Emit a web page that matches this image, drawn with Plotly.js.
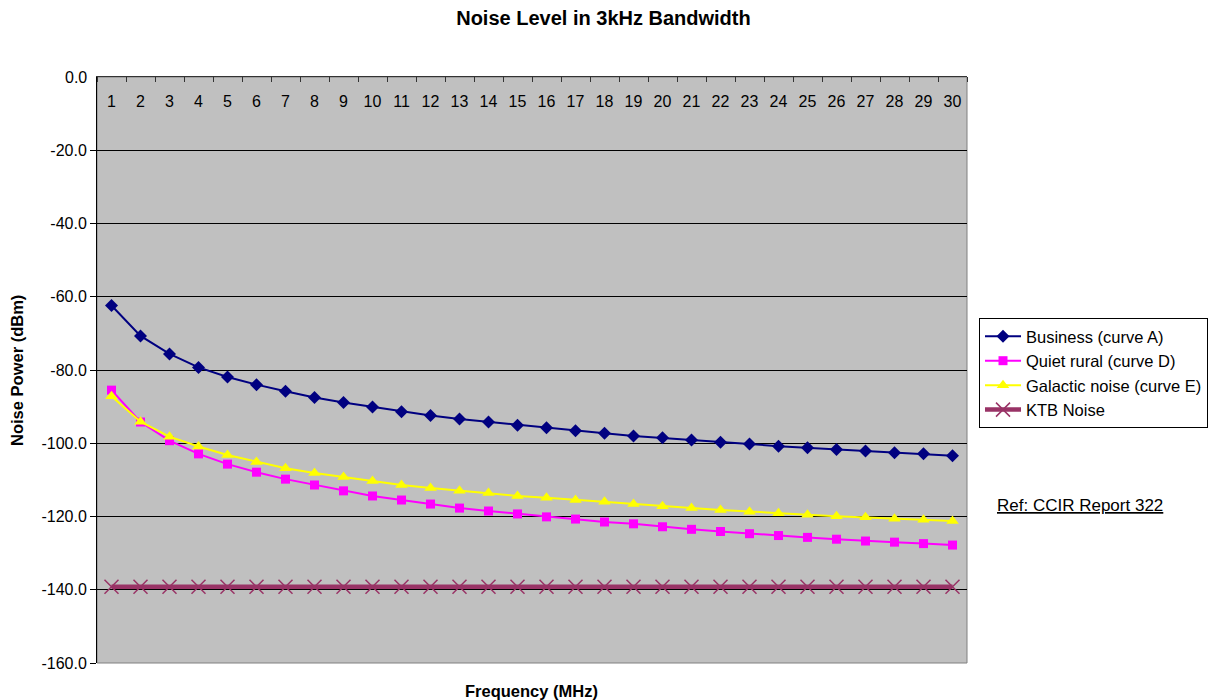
<!DOCTYPE html>
<html><head><meta charset="utf-8">
<script src="https://cdn.plot.ly/plotly-3.0.1.min.js"></script>
<style>html,body{margin:0;padding:0;background:#fff}#chart{width:1213px;height:700px}</style>
</head><body><div id="chart"></div>
<script>
const freqMHz = [1,2,3,4,5,6,7,8,9,10,11,12,13,14,15,16,17,18,19,20,21,22,23,24,25,26,27,28,29,30];
const business = [-62.4,-70.7,-75.6,-79.3,-81.9,-84.0,-85.8,-87.5,-88.9,-90.1,-91.4,-92.4,-93.4,-94.2,-95.1,-95.8,-96.6,-97.3,-98.0,-98.5,-99.1,-99.7,-100.2,-100.8,-101.2,-101.7,-102.1,-102.6,-102.9,-103.4];
const quietRural = [-85.5,-94.2,-99.3,-102.9,-105.7,-107.9,-109.8,-111.4,-113.0,-114.4,-115.5,-116.6,-117.7,-118.5,-119.3,-120.1,-120.7,-121.5,-122.0,-122.8,-123.5,-124.1,-124.7,-125.2,-125.7,-126.2,-126.7,-127.0,-127.4,-127.8];
const galactic = [-87.2,-94.1,-98.2,-100.9,-103.2,-105.1,-106.8,-108.1,-109.2,-110.3,-111.4,-112.2,-113.0,-113.6,-114.4,-114.9,-115.5,-116.0,-116.6,-117.2,-117.7,-118.2,-118.7,-119.1,-119.5,-119.9,-120.2,-120.6,-120.9,-121.2];
const ktb = [-139.2,-139.2,-139.2,-139.2,-139.2,-139.2,-139.2,-139.2,-139.2,-139.2,-139.2,-139.2,-139.2,-139.2,-139.2,-139.2,-139.2,-139.2,-139.2,-139.2,-139.2,-139.2,-139.2,-139.2,-139.2,-139.2,-139.2,-139.2,-139.2,-139.2];
const yTicks = [0,-20,-40,-60,-80,-100,-120,-140,-160];

const F = 'Arial, Liberation Sans, sans-serif';
const traces = [
  {x:freqMHz, y:business, name:'Business (curve A)', mode:'lines+markers', legendgroup:'a',
   line:{color:'#000080', width:2}, marker:{symbol:'diamond', size:10, color:'#000080'}},
  {x:freqMHz, y:quietRural, name:'Quiet rural (curve D)', mode:'lines+markers', legendgroup:'b',
   line:{color:'#FF00FF', width:2}, marker:{symbol:'square', size:9, color:'#FF00FF'}},
  {x:freqMHz, y:galactic, name:'Galactic noise (curve E)', mode:'lines+markers', legendgroup:'c',
   line:{color:'#FFFF00', width:2}, marker:{symbol:'triangle-up', size:11, color:'#FFFF00'}},
  {x:freqMHz, y:ktb, name:'KTB Noise', mode:'lines+markers', legendgroup:'d',
   line:{color:'#993366', width:4.5}, marker:{symbol:'x-thin-open', size:14, color:'#993366', line:{width:1.5, color:'#993366'}}}
];

const layout = {
  width:1213, height:700,
  margin:{l:97, r:246, t:77, b:37, autoexpand:false},
  paper_bgcolor:'#FFFFFF', plot_bgcolor:'#C0C0C0',
  font:{family:F, size:16, color:'#000'},
  showlegend:true,
  title:{text:'<b>Noise Level in 3kHz Bandwidth</b>', font:{family:F, size:20, color:'#000'}, xref:'container', x:0.4975, xanchor:'center', yref:'container', y:0.974, yanchor:'middle'},
  xaxis:{type:'linear', range:[0.5,30.5], tickvals:freqMHz, ticktext:freqMHz.map(String),
    side:'top', ticklabelposition:'inside', ticklabelstandoff:19, ticks:'', showgrid:false, zeroline:false,
    showline:true, linecolor:'#333', linewidth:1,
    minor:{tick0:0.5, dtick:1, ticks:'inside', ticklen:5, tickcolor:'#333', showgrid:false},
    tickfont:{family:F, size:16, color:'#000'}, fixedrange:true},
  yaxis:{range:[-160,0], tickvals:yTicks, ticktext:yTicks.map(v=>v.toFixed(1)),
    ticks:'outside', ticklen:6, tickcolor:'#000', showline:true, linecolor:'#000', linewidth:1,
    showgrid:true, gridcolor:'#000', gridwidth:1, zeroline:false,
    tickfont:{family:F, size:16, color:'#000'}, fixedrange:true},
  legend:{x:1.0138, y:0.5887, xanchor:'left', yanchor:'top', bgcolor:'#FFFFFF', bordercolor:'#000', borderwidth:1,
    font:{family:F, size:16.5, color:'#000'}, tracegroupgap:0, itemwidth:36},
  shapes:[
    {type:'rect', xref:'paper', yref:'paper', x0:0, x1:1, y0:0, y1:1, line:{color:'#808080', width:1}, fillcolor:'rgba(0,0,0,0)', layer:'below'}
  ],
  annotations:[
    {text:yTicks[0].toFixed(1), xref:'paper', yref:'y', x:0, y:yTicks[0], xanchor:'right', yanchor:'middle', xshift:-8, showarrow:false, font:{family:F, size:16, color:'#000'}},
    {text:'<b>Frequency (MHz)</b>', xref:'paper', yref:'paper', x:0.4989, y:-0.0478, xanchor:'center', yanchor:'middle', showarrow:false, font:{family:F, size:16.5, color:'#000'}},
    {text:'<b>Noise Power (dBm)</b>', xref:'paper', yref:'paper', x:-0.092, y:0.5, xanchor:'center', yanchor:'middle', textangle:-90, showarrow:false, font:{family:F, size:16.5, color:'#000'}},
    {text:'<u>Ref: CCIR Report 322</u>', xref:'paper', yref:'paper', x:1.0322, y:0.2696, xanchor:'left', yanchor:'middle', showarrow:false, font:{family:F, size:17, color:'#000'}}
  ]
};
Plotly.newPlot('chart', traces, layout, {displayModeBar:false, staticPlot:true});
</script></body></html>
